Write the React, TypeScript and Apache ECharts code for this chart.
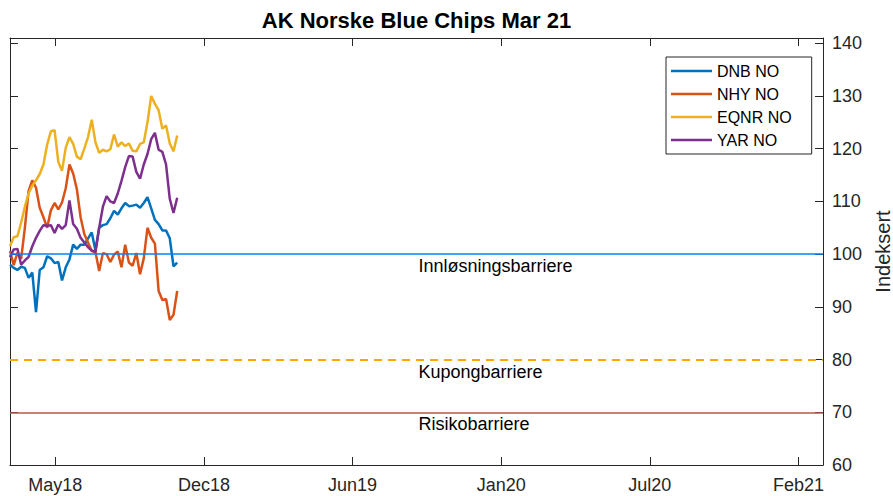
import React, { useEffect, useRef } from "react";
import * as echarts from "echarts";

const TITLE = "AK Norske Blue Chips Mar 21";
const Y_NAME = "Indeksert";

const DATES = [
  "2018-03-20", "2018-03-25", "2018-03-30", "2018-04-04", "2018-04-09", "2018-04-14",
  "2018-04-19", "2018-04-24", "2018-04-29", "2018-05-04", "2018-05-09", "2018-05-14",
  "2018-05-19", "2018-05-24", "2018-05-29", "2018-06-03", "2018-06-08", "2018-06-13",
  "2018-06-18", "2018-06-23", "2018-06-28", "2018-07-03", "2018-07-08", "2018-07-13",
  "2018-07-18", "2018-07-23", "2018-07-28", "2018-08-02", "2018-08-07", "2018-08-12",
  "2018-08-17", "2018-08-22", "2018-08-27", "2018-09-01", "2018-09-06", "2018-09-11",
  "2018-09-16", "2018-09-21", "2018-09-26", "2018-10-01", "2018-10-06", "2018-10-11",
  "2018-10-16", "2018-10-21", "2018-10-26", "2018-10-31",
];

const DNB = [
  98, 97.4, 97, 97.6, 97.4, 95.5, 96.5, 89, 97, 97.5, 99.6, 99.2, 98.3, 98.5, 95, 97.5,
  99, 101.8, 101, 101.8, 101.8, 103, 104.1, 100.7, 105, 105.5, 105.7, 106.8, 108.2, 107.5, 108.7, 109.7,
  109.1, 109.2, 109.4, 108.8, 109.7, 110.8, 108.7, 106.5, 105.7, 104.5, 104.5, 103, 97.7, 98.4,
];
const NHY = [
  100.6, 97.9, 100.3, 99.1, 105, 112, 114, 112.6, 108.8, 107, 105, 108.3, 109.7, 108.5, 109.8, 112.5,
  117, 115.3, 112.3, 107, 103.8, 102.2, 100.6, 100.4, 96.8, 100.2, 100, 98.5, 99.9, 100.5, 97.5, 101.8,
  98.4, 97.8, 100.2, 96.2, 99.2, 105, 103.1, 102, 93, 91.3, 91.5, 87.5, 88.5, 93,
];
const EQNR = [
  101.5, 103.2, 103.4, 106, 109, 111.5, 113, 114, 115.2, 117, 120.8, 123.3, 123.5, 117.5, 115.8, 120.2,
  122.2, 120.9, 118.5, 118, 120, 122.2, 125.5, 121.2, 119.2, 119.8, 119.5, 119.9, 122.7, 120.4, 121.2, 120.5,
  121, 119.6, 119.5, 120.9, 121.2, 125, 130, 128.5, 127.3, 123.8, 124.4, 121, 119.5, 122.5,
];
const YAR = [
  99.4, 100.9, 101, 98, 98.8, 99.5, 101.5, 103.1, 104.4, 105.5, 105.4, 105.5, 104, 105.6, 104.8, 105.5,
  110.2, 105.7, 104.8, 103.1, 102.2, 101.3, 100.7, 100.4, 105, 109, 111, 110, 109.7, 111.5, 113.9, 116.5,
  118.6, 118.5, 115.6, 114.3, 117, 119, 121.8, 123, 119.8, 119.4, 117, 110.5, 107.8, 110.7,
];

const SERIES_NAMES = ["DNB NO", "NHY NO", "EQNR NO", "YAR NO"];
const SERIES_VALUES = [DNB, NHY, EQNR, YAR];
const SERIES_COLORS = ["#0072BD", "#D95319", "#EDB120", "#7E2F8E"];

const BARRIER_LABELS = ["Innløsningsbarriere", "Kupongbarriere", "Risikobarriere"];
const BARRIER_LEVELS = [100, 80, 70];
const BARRIER_COLORS = ["#0080ff", "#ffa500", "#c1504c"];
const BARRIER_WIDTHS = [1.5, 2, 1.5];
const BARRIER_TYPES: any[] = ["solid", [8, 6], "solid"];

const X_MIN = "2018-03-20";
const X_MAX = "2021-03-18";
const X_TICKS = ["2018-05-20", "2018-12-06", "2019-06-24", "2020-01-10", "2020-07-28", "2021-02-13"];
const Y_TICKS = [60, 70, 80, 90, 100, 110, 120, 130, 140];
const Y_MIN = 60;
const Y_MAX = 141;
const MONTHS = ["Jan", "Feb", "Mar", "Apr", "May", "Jun", "Jul", "Aug", "Sep", "Oct", "Nov", "Dec"];

const FONT = 'Arial, "Liberation Sans", Helvetica, sans-serif';
const AXIS_COLOR = "#262626";

function toTime(s: string): number {
  const [y, m, d] = s.split("-").map(Number);
  return Date.UTC(y, m - 1, d);
}

function fmtDate(v: number): string {
  const d = new Date(v);
  return MONTHS[d.getUTCMonth()] + String(d.getUTCFullYear()).slice(2);
}

function buildOption(): any {
  const xMin = toTime(X_MIN);
  const xMax = toTime(X_MAX);
  const xTicks = X_TICKS.map(toTime);
  const axisLine = { show: true, onZero: false, lineStyle: { color: AXIS_COLOR, width: 1 } };
  const xTick = { show: true, inside: true, length: 8, customValues: xTicks, lineStyle: { color: AXIS_COLOR, width: 1 } };
  const yTick = { show: true, inside: true, length: 8, customValues: Y_TICKS, lineStyle: { color: AXIS_COLOR, width: 1 } };

  const series: any[] = SERIES_NAMES.map((name, k) => ({
    type: "line",
    name,
    xAxisIndex: 0,
    yAxisIndex: 0,
    symbol: "none",
    showSymbol: false,
    lineStyle: { color: SERIES_COLORS[k], width: 2.5 },
    itemStyle: { color: SERIES_COLORS[k] },
    data: DATES.map((d, i) => [toTime(d), SERIES_VALUES[k][i]]),
  }));

  series[series.length - 1].markLine = {
    symbol: "none",
    silent: true,
    animation: false,
    data: BARRIER_LEVELS.map((v, i) => ({
      yAxis: v,
      lineStyle: { color: BARRIER_COLORS[i], width: BARRIER_WIDTHS[i], type: BARRIER_TYPES[i] },
      label: {
        show: true,
        formatter: BARRIER_LABELS[i],
        position: "insideMiddleBottom",
        align: "left",
        distance: 3,
        offset: [2, 0],
        fontSize: 18,
        color: "#000",
        fontFamily: FONT,
      },
    })),
  };

  return {
    animation: false,
    backgroundColor: "#fff",
    textStyle: { fontFamily: FONT },
    graphic: [
      {
        type: "text",
        x: 416.5,
        y: 20,
        style: {
          text: TITLE,
          font: `bold 22px ${FONT}`,
          fill: "#000",
          align: "center",
          verticalAlign: "middle",
        },
      },
    ],
    grid: { left: 10, right: 70, top: 38, bottom: 31, containLabel: false, outerBoundsMode: "none" },
    legend: {
      data: SERIES_NAMES,
      orient: "vertical",
      left: 666,
      top: 57,
      padding: [5, 20, 5, 5],
      icon: "rect",
      itemWidth: 41,
      itemHeight: 2.5,
      itemGap: 5,
      borderColor: AXIS_COLOR,
      borderWidth: 1,
      backgroundColor: "#fff",
      textStyle: { fontSize: 16, color: "#000", lineHeight: 18, fontFamily: FONT },
    },
    xAxis: [
      {
        type: "value",
        position: "bottom",
        min: xMin,
        max: xMax,
        axisLine,
        axisTick: xTick,
        splitLine: { show: false },
        axisLabel: {
          show: true,
          customValues: xTicks,
          formatter: (v: number) => fmtDate(v),
          fontSize: 18,
          color: AXIS_COLOR,
          margin: 11,
          fontFamily: FONT,
        },
      },
      {
        type: "value",
        position: "top",
        min: xMin,
        max: xMax,
        axisLine,
        axisTick: xTick,
        splitLine: { show: false },
        axisLabel: { show: false },
      },
    ],
    yAxis: [
      {
        type: "value",
        position: "right",
        min: Y_MIN,
        max: Y_MAX,
        axisLine,
        axisTick: yTick,
        splitLine: { show: false },
        axisLabel: {
          show: true,
          customValues: Y_TICKS,
          fontSize: 18,
          color: AXIS_COLOR,
          margin: 9,
          fontFamily: FONT,
        },
        name: Y_NAME,
        nameLocation: "middle",
        nameRotate: 90,
        nameGap: 49,
        nameTextStyle: { fontSize: 20, color: AXIS_COLOR, fontFamily: FONT },
      },
      {
        type: "value",
        position: "left",
        min: Y_MIN,
        max: Y_MAX,
        axisLine,
        axisTick: yTick,
        splitLine: { show: false },
        axisLabel: { show: false },
      },
    ],
    series,
  };
}

export default function App() {
  const ref = useRef<HTMLDivElement>(null);
  useEffect(() => {
    if (!ref.current) return;
    const chart = echarts.init(ref.current, null, { renderer: "svg" });
    chart.setOption(buildOption());
    return () => chart.dispose();
  }, []);
  return (
    <div
      ref={ref}
      style={{ position: "absolute", left: 0, top: 0, width: 893, height: 496, background: "#fff" }}
    />
  );
}
